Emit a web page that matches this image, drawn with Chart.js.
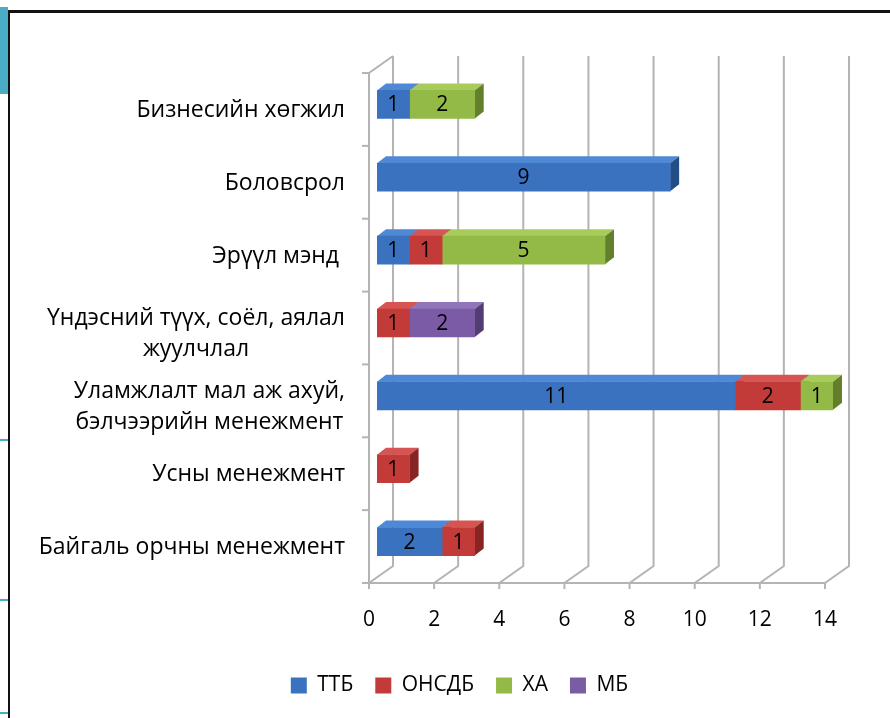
<!DOCTYPE html>
<html>
<head>
<meta charset="utf-8">
<script src="https://cdn.jsdelivr.net/npm/chart.js@4"></script>
<style>
  body { margin: 0; background: #fff; }
  #wrap { position: relative; width: 890px; height: 718px; overflow: hidden; }
  #chart { position: absolute; left: 0; top: 0; }
  .deco { position: absolute; }
</style>
</head>
<body>
<div id="wrap">
  <canvas id="chart" width="890" height="718"></canvas>
  <div class="deco" style="left:0;top:7px;width:8px;height:87px;background:#4bacc6"></div>
  <div class="deco" style="left:0;top:439px;width:8px;height:2px;background:#4bacc6"></div>
  <div class="deco" style="left:0;top:599px;width:8px;height:2px;background:#4bacc6"></div>
  <div class="deco" style="left:0;top:712px;width:8px;height:2px;background:#4bacc6"></div>
  <div class="deco" style="left:8px;top:10px;width:882px;height:3px;background:#111"></div>
  <div class="deco" style="left:8px;top:10px;width:2px;height:708px;background:#111"></div>
</div>
<script>
const categories = [
  'Бизнесийн хөгжил',
  'Боловсрол',
  'Эрүүл мэнд ',
  ['Үндэсний түүх, соёл, аялал', 'жуулчлал'],
  ['Уламжлалт мал аж ахуй,', 'бэлчээрийн менежмент'],
  'Усны менежмент',
  'Байгаль орчны менежмент'
];
const seriesNames = ['ТТБ', 'ОНСДБ', 'ХА', 'МБ'];
const ttb   = [1, 9, 1, null, 11, null, 2];
const onsdb = [null, null, 1, 1, 2, 1, 1];
const xa    = [2, null, 5, null, 1, null, null];
const mb    = [null, null, null, 2, null, null, null];
const xTicks = [0, 2, 4, 6, 8, 10, 12, 14];

const colors = ['#3a72c0', '#c23b38', '#93b946', '#7b5ba6'];
const topColors = ['#4f88d4', '#d65451', '#a8cc5c', '#9075ba'];
const sideColors = ['#234d85', '#862523', '#647f2c', '#533b74'];

const FONT = '"Open Sans", "DejaVu Sans", sans-serif';
const DX = 9, DY = 7;        // bar depth
const WX = 24, WY = 17;      // wall depth
const FRONT_SHIFT = -8;      // front plane offset from bar plane

const walls = {
  id: 'walls',
  beforeDatasetsDraw(chart) {
    const ctx = chart.ctx;
    const xs = chart.scales.x, ys = chart.scales.y;
    const floorY = chart.chartArea.bottom + 5;
    const band = ys.getPixelForValue(1) - ys.getPixelForValue(0);
    const topFront = ys.getPixelForValue(0) - band / 2 + 5;
    ctx.save();
    ctx.strokeStyle = '#b4b4b4';
    ctx.lineWidth = 2;
    xTicks.forEach(v => {
      const fx = xs.getPixelForValue(v) + FRONT_SHIFT;
      const bx = fx + WX;
      ctx.beginPath();
      ctx.moveTo(bx, topFront - WY);
      ctx.lineTo(bx, floorY - WY);
      ctx.lineTo(fx, floorY);
      ctx.lineTo(fx, floorY + 6);
      ctx.stroke();
    });
    // left wall
    const lx = xs.getPixelForValue(0) + FRONT_SHIFT;
    ctx.beginPath();
    ctx.moveTo(lx, floorY);
    ctx.lineTo(lx, topFront);
    ctx.lineTo(lx + WX, topFront - WY);
    ctx.stroke();
    // floor front edge
    ctx.beginPath();
    ctx.moveTo(lx, floorY);
    ctx.lineTo(xs.getPixelForValue(14) + FRONT_SHIFT, floorY);
    ctx.stroke();
    // category ticks
    for (let i = 0; i <= categories.length; i++) {
      const y = topFront + i * band;
      ctx.beginPath();
      ctx.moveTo(lx - 7, y);
      ctx.lineTo(lx, y);
      ctx.stroke();
    }
    // bar depth faces
    chart.data.datasets.forEach((ds, di) => {
      chart.getDatasetMeta(di).data.forEach((bar, i) => {
        if (ds.data[i] == null) return;
        const p = bar.getProps(['x', 'y', 'base', 'height'], true);
        const top = p.y - p.height / 2, bot = p.y + p.height / 2;
        ctx.fillStyle = topColors[di];
        ctx.beginPath();
        ctx.moveTo(p.base, top);
        ctx.lineTo(p.x, top);
        ctx.lineTo(p.x + DX, top - DY);
        ctx.lineTo(p.base + DX, top - DY);
        ctx.closePath();
        ctx.fill();
        ctx.fillStyle = sideColors[di];
        ctx.beginPath();
        ctx.moveTo(p.x, top);
        ctx.lineTo(p.x + DX, top - DY);
        ctx.lineTo(p.x + DX, bot - DY);
        ctx.lineTo(p.x, bot);
        ctx.closePath();
        ctx.fill();
      });
    });
    ctx.restore();
  }
};

// category labels: block right-aligned, lines centred within the block
const catLabels = {
  id: 'catLabels',
  afterDraw(chart) {
    const ctx = chart.ctx;
    const ys = chart.scales.y;
    const right = 345, lineH = 31;
    ctx.save();
    ctx.font = '23px ' + FONT;
    ctx.fillStyle = '#000';
    ctx.textBaseline = 'middle';
    ctx.textAlign = 'center';
    categories.forEach((c, i) => {
      const lines = Array.isArray(c) ? c : [c];
      const w = Math.max(...lines.map(l => ctx.measureText(l).width));
      const cx = right - w / 2;
      const cy = ys.getPixelForValue(i) + (lines.length > 1 ? 11 : 6);
      lines.forEach((l, k) => {
        ctx.fillText(l, cx, cy + (k - (lines.length - 1) / 2) * lineH);
      });
    });
    ctx.restore();
  }
};

const valueLabels = {
  id: 'valueLabels',
  afterDatasetsDraw(chart) {
    const ctx = chart.ctx;
    ctx.save();
    ctx.font = '21px ' + FONT;
    ctx.fillStyle = '#000';
    ctx.textAlign = 'center';
    ctx.textBaseline = 'middle';
    chart.data.datasets.forEach((ds, di) => {
      chart.getDatasetMeta(di).data.forEach((bar, i) => {
        const v = ds.data[i];
        if (v == null) return;
        const p = bar.getProps(['x', 'base', 'y'], true);
        ctx.fillText(String(v), (p.x + p.base) / 2, p.y + 1);
      });
    });
    ctx.restore();
  }
};

new Chart(document.getElementById('chart'), {
  type: 'bar',
  data: {
    labels: categories,
    datasets: [ttb, onsdb, xa, mb].map((d, i) => ({
      label: seriesNames[i],
      data: d,
      backgroundColor: colors[i],
      borderWidth: 0,
      barThickness: 28
    }))
  },
  options: {
    indexAxis: 'y',
    responsive: false,
    animation: false,
    layout: { padding: { left: 86, top: 68, right: 57, bottom: 12 } },
    scales: {
      x: {
        stacked: true,
        min: 0, max: 14,
        afterBuildTicks: s => { s.ticks = xTicks.map(v => ({ value: v })); },
        afterFit: s => { s.height = 75; },
        grid: { display: false, drawTicks: false },
        border: { display: false },
        ticks: { padding: 29, labelOffset: -8, color: '#000', font: { family: FONT, size: 21 } }
      },
      y: {
        stacked: true,
        afterFit: s => { s.width = 291; },
        grid: { display: false, drawTicks: false },
        border: { display: false },
        ticks: { display: false }
      }
    },
    plugins: {
      legend: {
        position: 'bottom',
        labels: { boxWidth: 16, boxHeight: 16, padding: 22, color: '#000', font: { family: FONT, size: 21 } }
      },
      tooltip: { enabled: false }
    }
  },
  plugins: [walls, catLabels, valueLabels]
});
</script>
</body>
</html>
